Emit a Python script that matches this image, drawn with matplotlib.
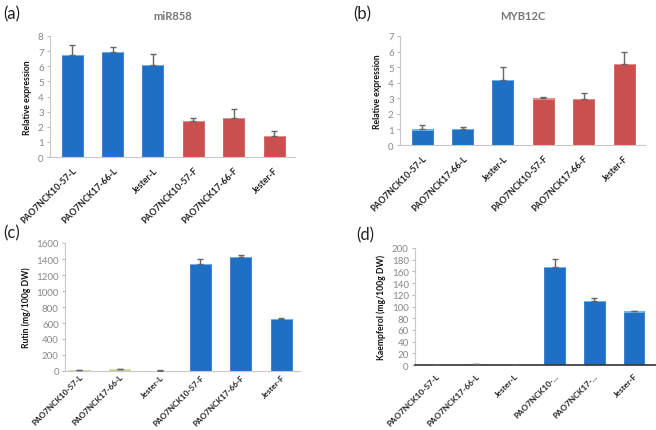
import matplotlib
matplotlib.use("Agg")
import matplotlib.pyplot as plt
import matplotlib.transforms as mtransforms
import numpy as np

plt.rcParams['font.family'] = ['Lato', 'DejaVu Sans']

labels_full = ["PAO7NCK10-57-L", "PAO7NCK17-66-L", "Jester-L",
               "PAO7NCK10-57-F", "PAO7NCK17-66-F", "Jester-F"]
labels_d = ["PAO7NCK10-57-L", "PAO7NCK17-66-L", "Jester-L",
            "PAO7NCK10-...", "PAO7NCK17-...", "Jester-F"]

mir858 = [6.75, 6.95, 6.1, 2.4, 2.6, 1.4]
mir858_err = [0.65, 0.35, 0.7, 0.2, 0.55, 0.3]
myb12c = [1.0, 1.05, 4.2, 3.0, 2.95, 5.2]
myb12c_err = [0.3, 0.1, 0.8, 0.1, 0.4, 0.8]
rutin = [10, 25, 5, 1340, 1430, 655]
rutin_err = [6, 6, 2, 60, 25, 10]
kaempferol = [0, 1, 0, 168, 110, 92]
kaempferol_err = [0, 1, 0, 14, 5, 1]

BLUE = "#1f6fc5"
RED = "#c9504f"
GREEN = "#c9d89b"

W, H = 656, 431
fig = plt.figure(figsize=(W / 100, H / 100), dpi=100)


def ax_px(l, r, top, bottom):
    return fig.add_axes([l / W, 1 - bottom / H, (r - l) / W, (bottom - top) / H])


def panel(ax, vals, errs, colors, labels, ymax, step, ylabel, xlim,
          dark_axis=False, label_dx=0.0, fs=6.2, xpad=6):
    x = np.arange(len(vals))
    ax.bar(x, vals, width=0.52, color=colors, edgecolor=[c for c in colors],
           linewidth=0.5, zorder=2)
    # light highlight on top of bars
    for xi, v, c in zip(x, vals, colors):
        if v > ymax * 0.02 and c != GREEN:
            ax.bar(xi, ymax * 0.012, bottom=v - ymax * 0.012, width=0.52,
                   color="#6fb3ee" if c == BLUE else "#e98d8b", zorder=3, linewidth=0)
    ax.errorbar(x, vals, yerr=[np.zeros(len(errs)), errs], fmt="none",
                ecolor="#666666", elinewidth=1.0, capsize=2, capthick=1.0, zorder=4)
    ax.set_ylim(0, ymax)
    ax.set_yticks(np.arange(0, ymax + step / 2, step))
    ax.set_xlim(*xlim)
    ax.set_xticks(x)
    ax.set_xticklabels(labels, rotation=45, ha="right", rotation_mode="anchor",
                       fontsize=fs, fontweight="bold", color="#222222")
    if label_dx:
        off = mtransforms.ScaledTranslation(label_dx / 100, 0, fig.dpi_scale_trans)
        for lab in ax.get_xticklabels():
            lab.set_transform(lab.get_transform() + off)
    ax.tick_params(axis="y", labelsize=7, labelcolor="#888888", length=2.5,
                   color="#bbbbbb", width=0.8, pad=2)
    ax.tick_params(axis="x", length=0, pad=xpad)
    for s in ["top", "right"]:
        ax.spines[s].set_visible(False)
    ax.spines["left"].set_color("#c8c8c8")
    ax.spines["bottom"].set_color("#333333" if dark_axis else "#c8c8c8")
    ax.spines["bottom"].set_linewidth(1.2 if dark_axis else 0.8)
    ax.set_ylabel(ylabel, fontsize=6.2, fontweight="bold", color="#111111", labelpad=4)


ax_a = ax_px(50, 295, 37, 158)
panel(ax_a, mir858, mir858_err, [BLUE] * 3 + [RED] * 3, labels_full, 8, 1,
      "Relative expression", (-0.55, 5.52), fs=6.4)
ax_a.set_title("miR858", fontsize=8, fontweight="bold", color="#777777", pad=12)

ax_b = ax_px(400, 645, 37, 146)
panel(ax_b, myb12c, myb12c_err, [BLUE] * 3 + [RED] * 3, labels_full, 7, 1,
      "Relative expression", (-0.55, 5.52), fs=6.4)
ax_b.set_title("MYB12C", fontsize=8, fontweight="bold", color="#777777", pad=12)

ax_c = ax_px(65, 300, 244, 372)
panel(ax_c, rutin, rutin_err, [GREEN] * 3 + [BLUE] * 3, labels_full, 1600, 200,
      "Rutin (mg/100g DW)", (-0.35, 5.47), label_dx=12, fs=5.9, xpad=1.5)

ax_d = ax_px(415, 656, 249, 366)
panel(ax_d, kaempferol, kaempferol_err, [GREEN] * 3 + [BLUE] * 3, labels_d, 200, 20,
      "Kaempferol (mg/100g DW)", (-0.53, 5.56), dark_axis=True, fs=6.0, xpad=5)

for txt, (px, py) in {"(a)": (3, 14), "(b)": (353, 14), "(c)": (3, 233), "(d)": (356, 235)}.items():
    fig.text(px / W, 1 - py / H, txt, fontsize=12, color="#222222", va="center", ha="left")

fig.savefig("out.png", dpi=100)
